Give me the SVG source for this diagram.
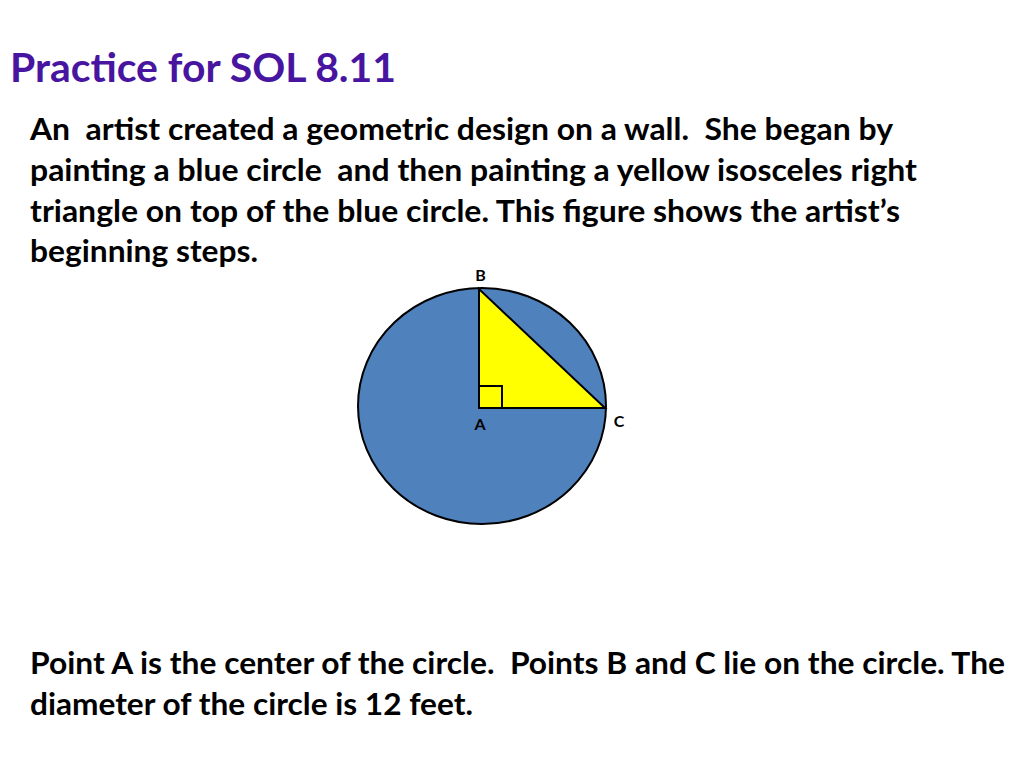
<svg xmlns="http://www.w3.org/2000/svg" width="1024" height="768" viewBox="0 0 1024 768">
<style>
.title{font-family:Lato,"Liberation Sans",sans-serif;font-weight:bold;font-size:40px;fill:#4715A0}
.body{font-family:Lato,"Liberation Sans",sans-serif;font-weight:bold;font-size:30px;fill:#000}
.lbl{font-family:Lato,"Liberation Sans",sans-serif;font-weight:bold;font-size:16px;fill:#000;text-anchor:middle}
.shape{stroke:#000;stroke-width:2;stroke-linejoin:miter}
</style>
<rect width="1024" height="768" fill="#fff"/>
<text class="title" x="10" y="82" textLength="386" lengthAdjust="spacingAndGlyphs">Practice for SOL 8.11</text>
<g id="intro">
<text class="body" x="30" y="140" textLength="863" lengthAdjust="spacingAndGlyphs" xml:space="preserve">An  artist created a geometric design on a wall.  She began by</text>
<text class="body" x="30" y="181" textLength="887" lengthAdjust="spacingAndGlyphs" xml:space="preserve">painting a blue circle  and then painting a yellow isosceles right</text>
<text class="body" x="30" y="222" textLength="870" lengthAdjust="spacingAndGlyphs">triangle on top of the blue circle. This figure shows the artist’s</text>
<text class="body" x="30" y="262" textLength="228" lengthAdjust="spacingAndGlyphs">beginning steps.</text>
</g>
<g id="figure">
<ellipse class="shape" cx="482" cy="406" rx="124" ry="118" fill="#4F81BD"/>
<polygon class="shape" points="479,289 479,408 605,408" fill="#FFFF00"/>
<rect x="479" y="386" width="23" height="22" fill="none" stroke="#000" stroke-width="2"/>
</g>
<g id="labels">
<text class="lbl" x="480.5" y="281">B</text>
<text class="lbl" x="480" y="430">A</text>
<text class="lbl" x="619" y="427">C</text>
</g>
<g id="conclusion">
<text class="body" x="30" y="674" textLength="975" lengthAdjust="spacingAndGlyphs" xml:space="preserve">Point A is the center of the circle.  Points B and C lie on the circle. The</text>
<text class="body" x="30" y="715" textLength="443" lengthAdjust="spacingAndGlyphs">diameter of the circle is 12 feet.</text>
</g>
</svg>
